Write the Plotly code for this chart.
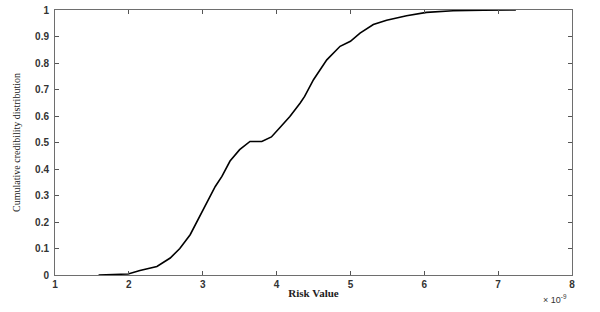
import plotly.graph_objects as go

# Risk value (in units of 1e-9) and cumulative credibility distribution
risk_value = [1.59, 1.99, 2.15, 2.38, 2.56, 2.69, 2.83, 2.94, 3.06, 3.17, 3.26, 3.37,
              3.50, 3.64, 3.80, 3.93, 4.04, 4.18, 4.32, 4.38, 4.50, 4.68, 4.86, 5.00,
              5.13, 5.31, 5.49, 5.76, 6.03, 6.39, 6.80, 7.24]
cum_cred = [0.0, 0.004, 0.017, 0.032, 0.064, 0.10, 0.152, 0.209, 0.272, 0.334, 0.372, 0.43,
            0.473, 0.504, 0.504, 0.521, 0.555, 0.598, 0.649, 0.674, 0.737, 0.812, 0.863, 0.882,
            0.913, 0.945, 0.961, 0.978, 0.991, 0.997, 0.999, 1.0]

x_ticks = [1, 2, 3, 4, 5, 6, 7, 8]
y_ticks = [0, 0.1, 0.2, 0.3, 0.4, 0.5, 0.6, 0.7, 0.8, 0.9, 1]
y_tick_labels = ["0", "0.1", "0.2", "0.3", "0.4", "0.5", "0.6", "0.7", "0.8", "0.9", "1"]

fig = go.Figure()
fig.add_trace(go.Scatter(x=risk_value, y=cum_cred, mode="lines",
                         line=dict(color="black", width=1.6), showlegend=False))

axis_common = dict(showgrid=False, zeroline=False, showline=True, linecolor="#6e6e6e",
                   linewidth=1, mirror="ticks", ticks="inside", ticklen=4,
                   tickcolor="#555555", tickwidth=1, automargin=False,
                   tickfont=dict(family="Liberation Sans", size=10, color="#333333",
                                 weight="bold"))

fig.update_layout(
    width=600, height=312,
    margin=dict(l=55, r=28, t=10, b=37),
    paper_bgcolor="white", plot_bgcolor="white",
    xaxis=dict(range=[1, 8], tickvals=x_ticks, ticktext=[str(v) for v in x_ticks],
               title=dict(text="<b>Risk Value</b>", standoff=0,
                          font=dict(family="Liberation Serif", size=11, color="#222222")),
               **axis_common),
    yaxis=dict(range=[0, 1], tickvals=y_ticks, ticktext=y_tick_labels,
               ticklabelstandoff=3,
               title=dict(text="Cumulative credibility distribution", standoff=12,
                          font=dict(family="Liberation Serif", size=10, color="#222222")),
               **axis_common),
)

fig.add_annotation(x=1, y=0, xref="paper", yref="paper", xanchor="right", yanchor="top",
                   yshift=-16, xshift=-3, showarrow=False,
                   text="× 10<sup>-9</sup>",
                   font=dict(family="Liberation Sans", size=9, color="#333333"))

fig.write_html("out.html")
